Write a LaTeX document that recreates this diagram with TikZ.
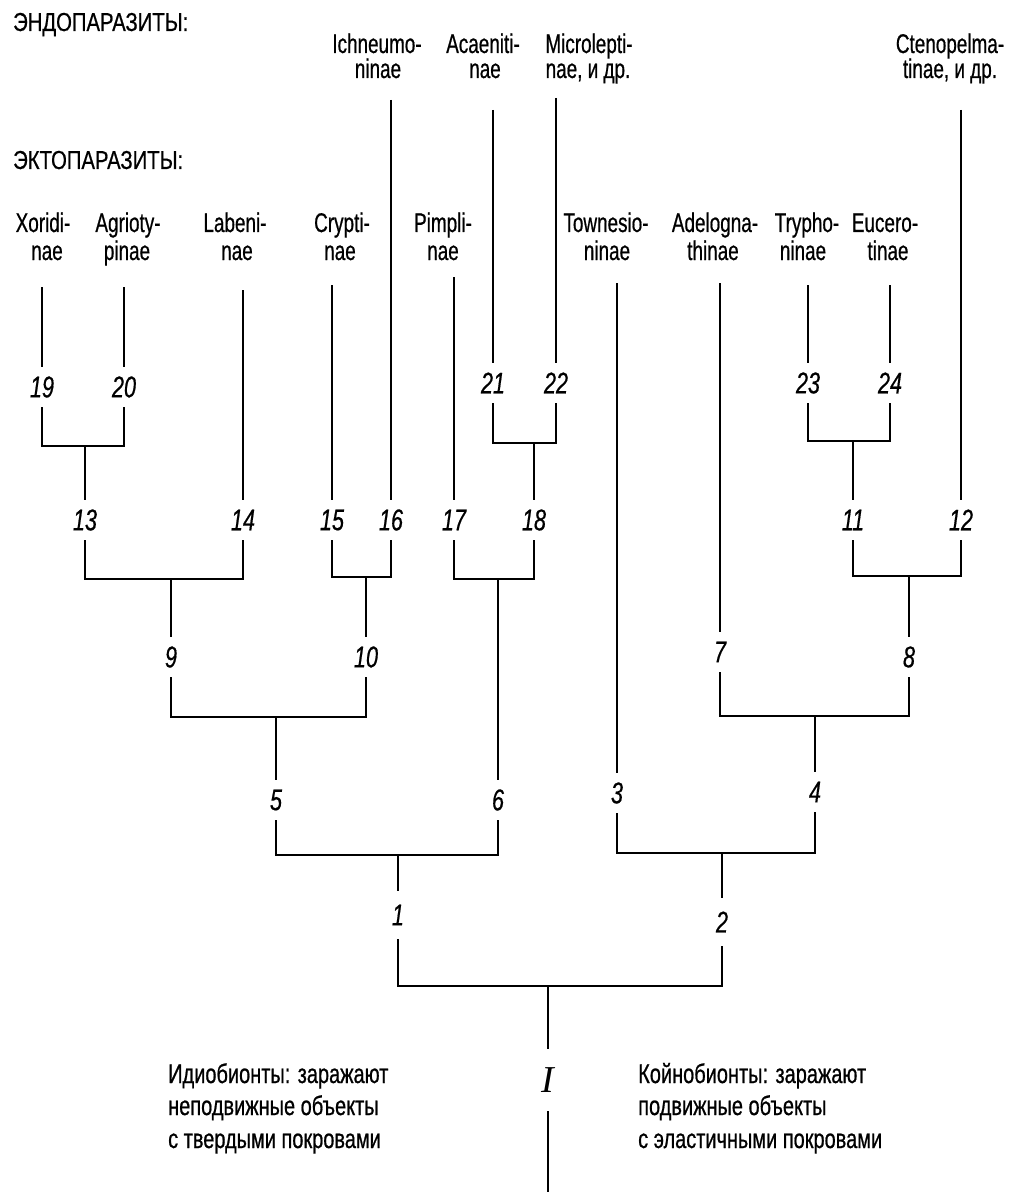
\documentclass[tikz,border=0pt]{standalone}
\usepackage{fontspec}
\newfontfamily\lab{Liberation Sans}[FakeStretch=0.7,FakeBold=0.6]
\newfontfamily\hdf{Liberation Sans}[FakeStretch=0.78,FakeBold=0.6]
\newfontfamily\notef{Liberation Sans}[FakeStretch=0.74,FakeBold=0.7]
\newfontfamily\numf{Liberation Sans Italic}[FakeStretch=0.72,FakeBold=0.5]
\newfontfamily\romf{Liberation Serif Italic}
\begin{document}
\begin{tikzpicture}[x=1pt,y=-1pt,
  ln/.style={line width=2.3pt},
  br/.style={line width=2.7pt},
  num/.style={font=\numf\fontsize{30}{30}\selectfont, inner sep=0pt, minimum height=40pt},
  tx/.style={font=\lab\fontsize{27}{28}\selectfont, inner sep=0pt, anchor=base},
  hd/.style={font=\hdf\fontsize{26}{26}\selectfont, inner sep=0pt, anchor=base west},
  note/.style={font=\notef\fontsize{27}{32}\selectfont, inner sep=0pt, anchor=base west}]
\useasboundingbox (0,0) rectangle (1019,1198);

% headings
\node[hd] (endo) at (13,31) {ЭНДОПАРАЗИТЫ:};
\node[hd] (ekto) at (13,169) {ЭКТОПАРАЗИТЫ:};

% taxon names, top row
\node[tx] (Ich) at (377,53) {Ichneumo-};   \node[tx] (Ich2) at (378,78) {ninae};
\node[tx] (Aca) at (483,53) {Acaeniti-};   \node[tx] (Aca2) at (485,78) {nae};
\node[tx] (Mic) at (589,53) {Microlepti-}; \node[tx] (Mic2) at (588,78) {nae, и др.};
\node[tx] (Cte) at (950,53) {Ctenopelma-}; \node[tx] (Cte2) at (950,78) {tinae, и др.};
% second row
\node[tx] (Xor) at (43,232) {Xoridi-};     \node[tx] (Xor2) at (47,260) {nae};
\node[tx] (Agr) at (128,232) {Agrioty-};   \node[tx] (Agr2) at (127,260) {pinae};
\node[tx] (Lab) at (235,232) {Labeni-};    \node[tx] (Lab2) at (237,260) {nae};
\node[tx] (Cry) at (342,232) {Crypti-};    \node[tx] (Cry2) at (340,260) {nae};
\node[tx] (Pim) at (443,232) {Pimpli-};    \node[tx] (Pim2) at (443,260) {nae};
\node[tx] (Tow) at (606,232) {Townesio-};  \node[tx] (Tow2) at (607,260) {ninae};
\node[tx] (Ade) at (715,232) {Adelogna-};  \node[tx] (Ade2) at (713,260) {thinae};
\node[tx] (Try) at (807,232) {Trypho-};    \node[tx] (Try2) at (803,260) {ninae};
\node[tx] (Euc) at (885,232) {Eucero-};    \node[tx] (Euc2) at (888,260) {tinae};

% number labels
\node[num] (n19) at (42,387) {19};
\node[num] (n20) at (124,387) {20};
\node[num] (n21) at (493,383) {21};
\node[num] (n22) at (556,383) {22};
\node[num] (n23) at (808,383) {23};
\node[num] (n24) at (890,383) {24};
\node[num] (n13) at (85,520) {13};
\node[num] (n14) at (243,520) {14};
\node[num] (n15) at (332,520) {15};
\node[num] (n16) at (391,520) {16};
\node[num] (n17) at (454,520) {17};
\node[num] (n18) at (534,520) {18};
\node[num] (n11) at (853,520) {11};
\node[num] (n12) at (961,520) {12};
\node[num] (n9) at (171,657) {9};
\node[num] (n10) at (366,657) {10};
\node[num] (n7) at (720,652) {7};
\node[num] (n8) at (909,657) {8};
\node[num] (n5) at (276,800) {5};
\node[num] (n6) at (498,800) {6};
\node[num] (n3) at (617,793) {3};
\node[num] (n4) at (815,792) {4};
\node[num, minimum height=48pt] (n1) at (398,915) {1};
\node[num, minimum height=48pt] (n2) at (722,922) {2};
\node[font=\romf\fontsize{38}{38}\selectfont, inner sep=0pt, minimum height=62pt] (nI) at (548,1080) {I};

% leaf tops
\coordinate (tXor) at (42,287);
\coordinate (tAgr) at (124,287);
\coordinate (tLab) at (243,290);
\coordinate (tCry) at (332,285);
\coordinate (tIch) at (391,100);
\coordinate (tPim) at (454,277);
\coordinate (tAca) at (493,110);
\coordinate (tMic) at (556,98);
\coordinate (tTow) at (617,283);
\coordinate (tAde) at (720,283);
\coordinate (tTry) at (808,285);
\coordinate (tEuc) at (890,285);
\coordinate (tCte) at (961,110);

% bracket joints
\coordinate (k13) at (85,446);
\coordinate (k18) at (534,443);
\coordinate (k11) at (853,441);
\coordinate (k9) at (171,579);
\coordinate (k10) at (366,577);
\coordinate (k6) at (498,579);
\coordinate (k8) at (909,576);
\coordinate (k5) at (276,717);
\coordinate (k4) at (815,716);
\coordinate (k1) at (398,855);
\coordinate (k2) at (722,853);
\coordinate (kI) at (548,986);
\coordinate (root) at (548,1192);

% leaf lines
\draw[ln] (tXor) -- (n19.north);
\draw[ln] (tAgr) -- (n20.north);
\draw[ln] (tLab) -- (n14.north);
\draw[ln] (tCry) -- (n15.north);
\draw[ln] (tIch) -- (n16.north);
\draw[ln] (tPim) -- (n17.north);
\draw[ln] (tAca) -- (n21.north);
\draw[ln] (tMic) -- (n22.north);
\draw[ln] (tTow) -- (n3.north);
\draw[ln] (tAde) -- (n7.north);
\draw[ln] (tTry) -- (n23.north);
\draw[ln] (tEuc) -- (n24.north);
\draw[ln] (tCte) -- (n12.north);

% brackets and stems
\draw[br] (n19.south) |- (k13) -| (n20.south);  \draw[ln] (k13) -- (n13.north);
\draw[br] (n21.south) |- (k18) -| (n22.south);  \draw[ln] (k18) -- (n18.north);
\draw[br] (n23.south) |- (k11) -| (n24.south);  \draw[ln] (k11) -- (n11.north);
\draw[br] (n13.south) |- (k9) -| (n14.south);   \draw[ln] (k9) -- (n9.north);
\draw[br] (n15.south) |- (k10) -| (n16.south);  \draw[ln] (k10) -- (n10.north);
\draw[br] (n17.south) |- (k6) -| (n18.south);   \draw[ln] (k6) -- (n6.north);
\draw[br] (n11.south) |- (k8) -| (n12.south);   \draw[ln] (k8) -- (n8.north);
\draw[br] (n9.south) |- (k5) -| (n10.south);    \draw[ln] (k5) -- (n5.north);
\draw[br] (n7.south) |- (k4) -| (n8.south);     \draw[ln] (k4) -- (n4.north);
\draw[br] (n5.south) |- (k1) -| (n6.south);     \draw[ln] (k1) -- (n1.north);
\draw[br] (n3.south) |- (k2) -| (n4.south);     \draw[ln] (k2) -- (n2.north);
\draw[br] (n1.south) |- (kI) -| (n2.south);     \draw[ln] (kI) -- (nI.north);
\draw[ln] (nI.south) -- (root);

% notes
\node[note] (idio1) at (168,1083) {Идиобионты: заражают};
\node[note] (idio2) at (168,1115) {неподвижные объекты};
\node[note] (idio3) at (168,1148) {с твердыми покровами};
\node[note] (koin1) at (638,1083) {Койнобионты: заражают};
\node[note] (koin2) at (638,1115) {подвижные объекты};
\node[note] (koin3) at (638,1148) {с эластичными покровами};
\end{tikzpicture}
\end{document}
